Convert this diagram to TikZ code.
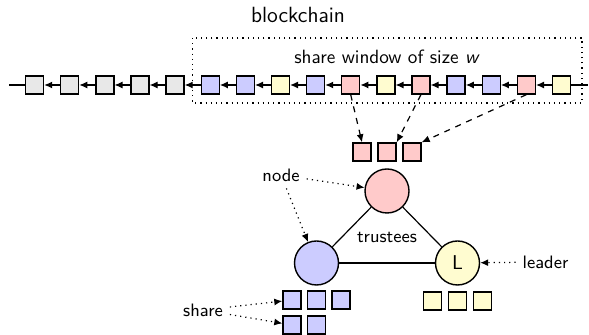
\documentclass[tikz,border=0pt]{standalone}
\usepackage{amsmath}
\usetikzlibrary{arrows.meta}
\definecolor{blockgray}{HTML}{E8E8E8}
\definecolor{blockblue}{HTML}{CCCCFF}
\definecolor{blockpink}{HTML}{FFCACA}
\definecolor{blockyellow}{HTML}{FFFCD0}

\begin{document}
\begin{tikzpicture}[x=0.5pt, y=-0.5pt, font=\sffamily\small,
  block/.style={draw, line width=0.7pt, minimum size=9pt, inner sep=0pt},
  trustee/.style={circle, draw, line width=0.7pt, minimum size=22pt, inner sep=0pt},
  link/.style={line width=0.6pt, -{Latex[length=4pt,width=3.5pt]}},
  fetch/.style={link, dashed},
  hint/.style={link, dotted}]
  \useasboundingbox (0,0) rectangle (589,335);
  \node [font=\sffamily\fontsize{11}{13}\selectfont] (title) at (298,15) {blockchain};
  % share window
  \draw [dotted, line width=0.6pt] (192.5,38) rectangle (582,103);
  \node [font=\sffamily\fontsize{9.6}{11}\selectfont] (window) at (387,57) {share window of size \textit{w}};
  % chain
  \coordinate (left) at (9,85);
  \coordinate (right) at (588,85);
  \node [block, fill=blockgray] (b1) at (34.5,85) {};
  \node [block, fill=blockgray] (b2) at (69.6,85) {};
  \node [block, fill=blockgray] (b3) at (104.8,85) {};
  \node [block, fill=blockgray] (b4) at (139.9,85) {};
  \node [block, fill=blockgray] (b5) at (175,85) {};
  \node [block, fill=blockblue] (b6) at (210.2,85) {};
  \node [block, fill=blockblue] (b7) at (245.3,85) {};
  \node [block, fill=blockyellow] (b8) at (280.4,85) {};
  \node [block, fill=blockblue] (b9) at (315.5,85) {};
  \node [block, fill=blockpink] (b10) at (350.7,85) {};
  \node [block, fill=blockyellow] (b11) at (385.8,85) {};
  \node [block, fill=blockpink] (b12) at (420.9,85) {};
  \node [block, fill=blockblue] (b13) at (456.1,85) {};
  \node [block, fill=blockblue] (b14) at (491.2,85) {};
  \node [block, fill=blockpink] (b15) at (526.3,85) {};
  \node [block, fill=blockyellow] (b16) at (561.5,85) {};
  \draw [line width=0.6pt] (left) -- (b1);
  \draw [line width=0.6pt] (b16) -- (right);
  \draw [link] (b2) -- (b1);
  \draw [link] (b3) -- (b2);
  \draw [link] (b4) -- (b3);
  \draw [link] (b5) -- (b4);
  \draw [link] (b6) -- (b5);
  \draw [link] (b7) -- (b6);
  \draw [link] (b8) -- (b7);
  \draw [link] (b9) -- (b8);
  \draw [link] (b10) -- (b9);
  \draw [link] (b11) -- (b10);
  \draw [link] (b12) -- (b11);
  \draw [link] (b13) -- (b12);
  \draw [link] (b14) -- (b13);
  \draw [link] (b15) -- (b14);
  \draw [link] (b16) -- (b15);
  % shares taken from the window
  \node [block, fill=blockpink] (p1) at (362,152) {};
  \node [block, fill=blockpink] (p2) at (387,152) {};
  \node [block, fill=blockpink] (p3) at (412,152) {};
  \draw [fetch] (b10.south) -- (p1.north);
  \draw [fetch] (b12.south) -- (p2.north east);
  \draw [fetch] (b15.south) -- (p3.north east);
  % trustees
  \node [trustee, fill=blockpink] (t1) at (387,191) {};
  \node [trustee, fill=blockblue] (t2) at (316.5,263) {};
  \node [trustee, fill=blockyellow, font=\sffamily\normalsize] (t3) at (457.5,263) {L};
  \draw [line width=0.6pt] (t1) -- (t2);
  \draw [line width=0.6pt] (t1) -- (t3);
  \draw [line width=0.6pt] (t2) -- (t3);
  \node (trustees) at (387,237) {trustees};
  % shares held by the trustees
  \node [block, fill=blockblue] (s1) at (292,300) {};
  \node [block, fill=blockblue] (s2) at (316.5,300) {};
  \node [block, fill=blockblue] (s3) at (341,300) {};
  \node [block, fill=blockblue] (s4) at (292,325) {};
  \node [block, fill=blockblue] (s5) at (316.5,325) {};
  \node [block, fill=blockyellow] (y1) at (432.5,301) {};
  \node [block, fill=blockyellow] (y2) at (457.5,301) {};
  \node [block, fill=blockyellow] (y3) at (482.5,301) {};
  % labels
  \node (nodelbl) at (281,175) {node};
  \node (leaderlbl) at (545.5,262) {leader};
  \node (sharelbl) at (203,310) {share};
  \draw [hint] (nodelbl) -- (t1);
  \draw [hint] (nodelbl) -- (t2);
  \draw [hint] (leaderlbl) -- (t3);
  \draw [hint] (sharelbl) -- (s1);
  \draw [hint] (sharelbl) -- (s4);
\end{tikzpicture}
\end{document}
